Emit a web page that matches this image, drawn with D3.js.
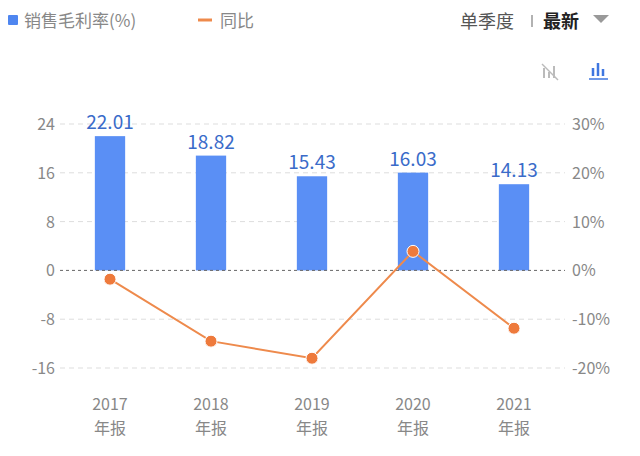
<!DOCTYPE html><html><head><meta charset="utf-8"><script src="https://cdn.jsdelivr.net/npm/d3@7"></script>
<style>body{margin:0;background:#fff}text{font-family:"Noto Sans CJK SC","Noto Sans",sans-serif}</style></head><body><svg width="640" height="456"></svg>
<script>
const years=["2017","2018","2019","2020","2021"];
const margin=[22.01,18.82,15.43,16.03,14.13];
const yoy=[-1.8,-14.5,-18.0,3.9,-11.85];
const leftTicks=[24,16,8,0,-8,-16];
const rightTicks=[30,20,10,0,-10,-20];
const svg=d3.select("svg");
const x=d3.scaleBand().domain(years).range([59.5,564.5]).paddingInner(0.7).paddingOuter(0.35);
const yL=d3.scaleLinear().domain([-16,24]).range([368,124]);
const yR=d3.scaleLinear().domain([-20,30]).range([368,124]);
const gray="#888";
leftTicks.forEach(t=>{
 if(t!==0)svg.append("line").attr("x1",60).attr("x2",565).attr("y1",yL(t)).attr("y2",yL(t)).attr("stroke","#ddd").attr("stroke-dasharray","5,4");
 svg.append("text").attr("x",55).attr("y",yL(t)+6).attr("text-anchor","end").attr("font-size",16).attr("fill",gray).text(t);
});
rightTicks.forEach(t=>svg.append("text").attr("x",572).attr("y",yR(t)+6).attr("font-size",16).attr("fill",gray).text(t+"%"));
svg.selectAll("rect.b").data(years).join("rect").attr("x",d=>x(d)).attr("width",x.bandwidth()).attr("y",(d,i)=>yL(margin[i])).attr("height",(d,i)=>yL(0)-yL(margin[i])).attr("fill","#5a8ff5");
svg.append("line").attr("x1",60).attr("x2",565).attr("y1",yL(0)).attr("y2",yL(0)).attr("stroke","#666").attr("stroke-dasharray","3,3");
svg.selectAll("text.v").data(years).join("text").attr("x",d=>x(d)+x.bandwidth()/2).attr("y",(d,i)=>yL(margin[i])-7).attr("text-anchor","middle").attr("font-size",19).attr("fill","#3a6bc9").text((d,i)=>margin[i].toFixed(2));
const cx=d=>x(d)+x.bandwidth()/2;
svg.append("path").attr("d",d3.line().x(d=>cx(d)).y((d,i)=>yR(yoy[i]))(years)).attr("fill","none").attr("stroke","#ee8a4c").attr("stroke-width",2);
svg.selectAll("circle").data(years).join("circle").attr("cx",cx).attr("cy",(d,i)=>yR(yoy[i])).attr("r",6).attr("fill","#ee7a3c").attr("stroke","#fff").attr("stroke-width",1);
years.forEach(y=>{
 svg.append("text").attr("x",cx(y)).attr("y",410).attr("text-anchor","middle").attr("font-size",16).attr("fill",gray).text(y);
 svg.append("text").attr("x",cx(y)).attr("y",434).attr("text-anchor","middle").attr("font-size",16).attr("fill",gray).text("年报");
});
svg.append("rect").attr("x",8).attr("y",15).attr("width",10).attr("height",10).attr("fill","#4f86f0").attr("rx",1);
svg.append("text").attr("x",24).attr("y",27).attr("font-size",17).attr("fill",gray).text("销售毛利率(%)");
svg.append("line").attr("x1",198).attr("x2",212).attr("y1",20).attr("y2",20).attr("stroke","#ee8a4c").attr("stroke-width",3);
svg.append("text").attr("x",220).attr("y",27).attr("font-size",17).attr("fill",gray).text("同比");
svg.append("text").attr("x",460).attr("y",28).attr("font-size",18).attr("fill","#555").text("单季度");
svg.append("line").attr("x1",532).attr("x2",532).attr("y1",15).attr("y2",27).attr("stroke","#999").attr("stroke-width",1.5);
svg.append("text").attr("x",543).attr("y",28).attr("font-size",18).attr("font-weight","bold").attr("fill","#222").text("最新");
svg.append("path").attr("d","M593,15 L609,15 L601,23 Z").attr("fill","#999");
const ic=svg.append("g").attr("stroke","#bbb").attr("stroke-width",2);
[[544,68,78],[549,72,78],[554,66,78]].forEach(a=>ic.append("line").attr("x1",a[0]).attr("x2",a[0]).attr("y1",a[1]).attr("y2",a[2]));
ic.append("line").attr("x1",542).attr("x2",558).attr("y1",64).attr("y2",80).attr("stroke-width",1.5);
const ib=svg.append("g").attr("stroke","#3f77e0").attr("stroke-width",2.5);
[[593,68],[598,63],[603,69]].forEach(a=>ib.append("line").attr("x1",a[0]).attr("x2",a[0]).attr("y1",a[1]).attr("y2",76));
ib.append("line").attr("x1",589).attr("x2",608).attr("y1",79).attr("y2",79).attr("stroke-width",1.5);
</script></body></html>
